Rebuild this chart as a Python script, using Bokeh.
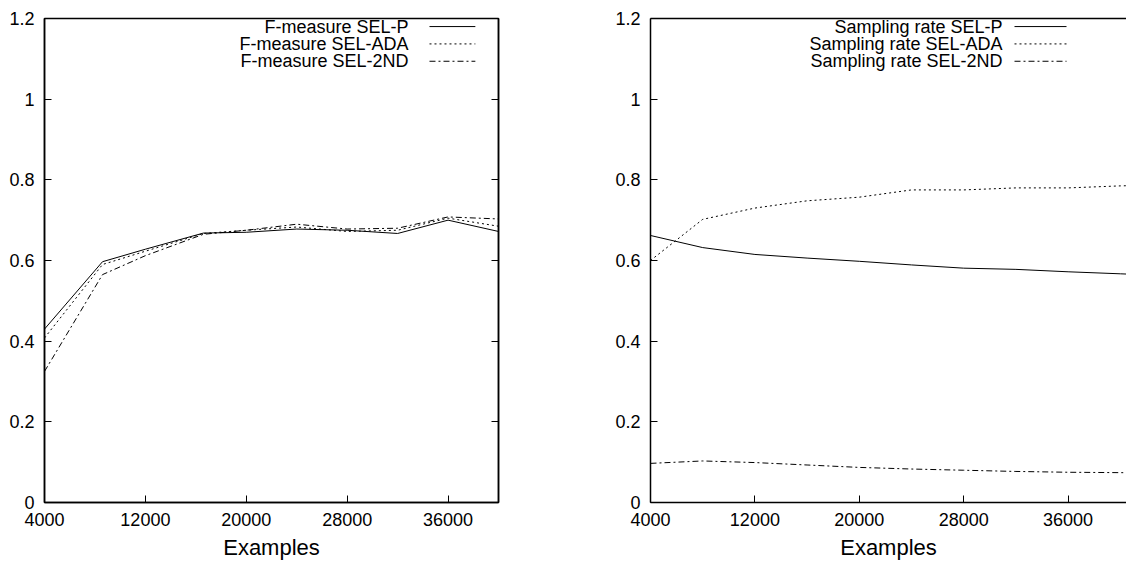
from bokeh.plotting import figure
from bokeh.layouts import row
from bokeh.models import FixedTicker, CustomJSTickFormatter, LinearAxis, Range1d
from bokeh.embed import file_html
from bokeh.resources import INLINE

# ---------------- data ----------------
f_examples = [4000, 8600, 12000, 16600, 20000, 24000, 28000, 32000, 36000, 40000]
f_sel_p   = [0.430, 0.597, 0.628, 0.668, 0.670, 0.678, 0.675, 0.667, 0.700, 0.672]
f_sel_ada = [0.408, 0.590, 0.623, 0.667, 0.675, 0.683, 0.672, 0.675, 0.705, 0.685]
f_sel_2nd = [0.325, 0.565, 0.612, 0.665, 0.675, 0.690, 0.678, 0.680, 0.708, 0.703]

s_examples = [4000, 8000, 12000, 16000, 20000, 24000, 28000, 32000, 36000, 40000, 44000]
s_sel_p   = [0.662, 0.632, 0.615, 0.606, 0.598, 0.589, 0.581, 0.578, 0.572, 0.567, 0.562]
s_sel_ada = [0.600, 0.702, 0.730, 0.748, 0.757, 0.775, 0.775, 0.780, 0.780, 0.785, 0.788]
s_sel_2nd = [0.097, 0.103, 0.099, 0.093, 0.087, 0.083, 0.080, 0.077, 0.075, 0.074, 0.073]

left_labels = ["F-measure SEL-P", "F-measure SEL-ADA", "F-measure SEL-2ND"]
right_labels = ["Sampling rate SEL-P", "Sampling rate SEL-ADA", "Sampling rate SEL-2ND"]

x_ticks = [4000, 12000, 20000, 28000, 36000]
y_ticks = [0, 0.2, 0.4, 0.6, 0.8, 1, 1.2]
x_label = "Examples"

# ---------------- style ----------------
FONT = "Liberation Sans"
DASHES = ["solid", "2 3", "6 3 2 3"]
fmt_code = "return tick.toString();"


def make_fig(xs, series, labels, x_end, frame_w, border_l, border_r,
             text_right, samp0, samp1, mirror_right, full_outline):
    p = figure(frame_width=frame_w, frame_height=484,
               x_range=Range1d(4000, x_end), y_range=Range1d(0, 1.2),
               output_backend="svg", toolbar_location=None,
               min_border_left=border_l, min_border_right=border_r,
               min_border_top=18, min_border_bottom=60)
    p.xgrid.visible = False
    p.ygrid.visible = False
    p.background_fill_color = "white"
    p.border_fill_color = "white"
    if full_outline:
        p.outline_line_color = "black"
        p.outline_line_width = 1.5
    else:
        p.outline_line_color = None

    for ax in (p.xaxis[0], p.yaxis[0]):
        ax.major_tick_in = 7
        ax.major_tick_out = 0
        ax.minor_tick_line_color = None
        ax.axis_line_color = "black"
        ax.axis_line_width = 1.5
        ax.major_tick_line_width = 1
        ax.major_label_text_font = FONT
        ax.major_label_text_font_size = "18px"
        ax.major_label_text_color = "black"
        ax.formatter = CustomJSTickFormatter(code=fmt_code)
    p.xaxis[0].ticker = FixedTicker(ticks=x_ticks)
    p.yaxis[0].ticker = FixedTicker(ticks=y_ticks)
    p.xaxis[0].major_label_standoff = 10
    p.yaxis[0].major_label_standoff = 10
    p.xaxis[0].axis_label = x_label
    p.xaxis[0].axis_label_text_font = FONT
    p.xaxis[0].axis_label_text_font_size = "22px"
    p.xaxis[0].axis_label_text_font_style = "normal"
    p.xaxis[0].axis_label_text_color = "black"
    p.xaxis[0].axis_label_standoff = 6

    if mirror_right:
        ra = LinearAxis(ticker=FixedTicker(ticks=y_ticks), major_tick_in=7,
                        major_tick_out=0, minor_tick_line_color=None,
                        formatter=CustomJSTickFormatter(code="return '';"),
                        major_label_standoff=0,
                        axis_line_color="black", axis_line_width=1.5)
        p.add_layout(ra, "right")
    if not full_outline:
        ta = LinearAxis(ticker=FixedTicker(ticks=[]), major_tick_in=0,
                        major_tick_out=0, minor_tick_line_color=None,
                        formatter=CustomJSTickFormatter(code="return '';"),
                        major_label_standoff=0,
                        axis_line_color="black", axis_line_width=1.5)
        p.add_layout(ta, "above")

    for ys, dash in zip(series, DASHES):
        p.line(xs, ys, line_color="black", line_width=1, line_dash=dash)

    # gnuplot-style key: text on the left, sample on the right
    span = x_end - 4000
    rows_y = [1.180, 1.137, 1.094]
    tx = [4000 + text_right * span] * 3
    p.text(x=tx, y=rows_y, text=labels, text_align="right", text_baseline="middle",
           text_font={"value": FONT}, text_font_size="18px", text_color="black")
    for yy, dash in zip(rows_y, DASHES):
        p.segment(x0=[4000 + samp0 * span], y0=[yy], x1=[4000 + samp1 * span], y1=[yy],
                  line_color="black", line_width=1, line_dash=dash)
    return p


RIGHT_W = 476
right_end = 4000 + RIGHT_W * 8000 / 104.4

p1 = make_fig(f_examples, [f_sel_p, f_sel_ada, f_sel_2nd], left_labels, 40000, 454, 44, 60,
              0.802, 0.848, 0.949, True, True)
p2 = make_fig(s_examples, [s_sel_p, s_sel_ada, s_sel_2nd], right_labels, right_end, RIGHT_W, 92, 0,
              (1003 - 651) / RIGHT_W, (1015 - 651) / RIGHT_W, (1067 - 651) / RIGHT_W, False, False)

layout = row(p1, p2)
open("out.html", "w").write(file_html(layout, INLINE))
